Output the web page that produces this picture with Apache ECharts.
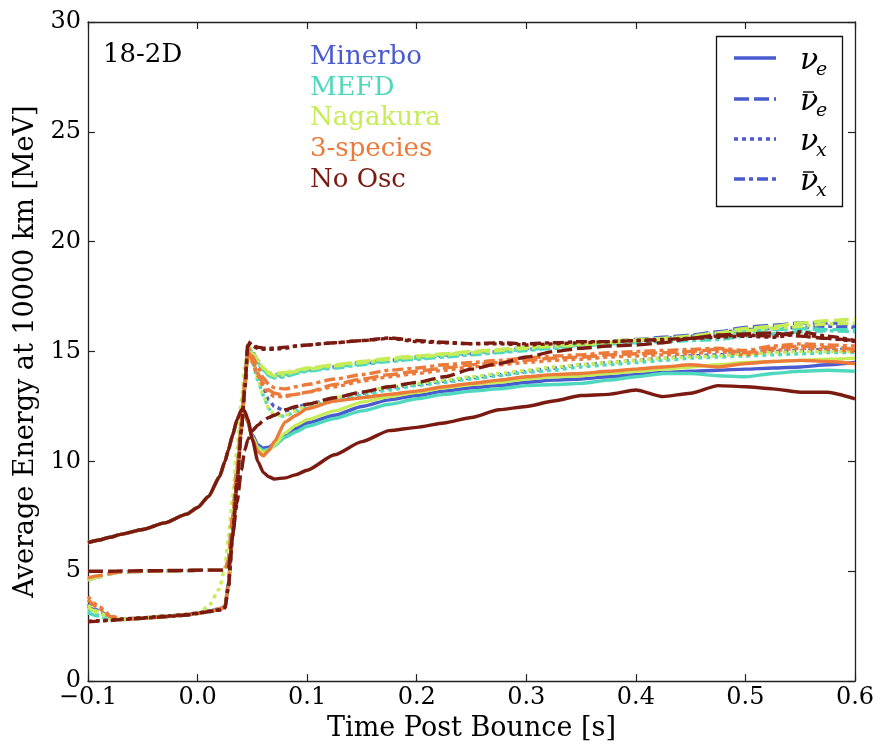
<!DOCTYPE html>
<html><head><meta charset="utf-8">
<script src="https://cdn.jsdelivr.net/npm/echarts@6/dist/echarts.min.js"></script>
<style>html,body{margin:0;padding:0;background:#fff}#c{width:881px;height:747px}</style>
</head><body><div id="c"></div>
<script>
// time grid [s]
const T = [-0.1,-0.09,-0.08,-0.07,-0.05,-0.03,-0.01,0.0,0.01,0.02,
 0.025,0.028,0.032,0.036,0.04,0.043,0.046,0.05,0.055,0.06,0.065,0.07,0.08,0.09,0.1,
 0.125,0.15,0.175,0.2,0.225,0.25,0.275,0.3,0.325,0.35,0.375,0.4,0.425,0.45,0.475,0.5,0.525,0.55,0.575,0.6];

// Minerbo
const mi_nue = [6.3,6.42,6.55,6.68,6.9,7.2,7.6,7.9,8.4,9.3,
 10.0,10.5,11.2,11.9,12.3,12.2,11.8,11.2,10.75,10.6,10.65,10.8,11.2,11.5,11.75,
 12.1,12.5,12.8,13.0,13.2,13.35,13.45,13.6,13.7,13.75,13.85,13.95,14.05,14.1,14.15,14.2,14.25,14.3,14.4,14.5];
const mi_nueb = [4.6,4.75,4.88,4.97,5.0,5.02,5.03,5.04,5.05,5.05,
 5.05,5.5,7.5,9.6,11.8,13.6,15.1,14.9,14.5,14.2,14.0,13.95,14.0,14.1,14.2,
 14.35,14.5,14.6,14.75,14.85,14.95,15.05,15.15,15.25,15.35,15.45,15.55,15.65,15.75,15.9,16.1,16.2,16.3,16.3,16.25];
const mi_nux = [3.5,3.2,2.9,2.82,2.88,2.95,3.03,3.1,3.18,3.3,
 3.4,4.4,6.8,9.2,11.6,13.4,15.2,14.6,13.9,13.3,12.8,12.5,12.3,12.45,12.6,
 12.85,13.1,13.35,13.5,13.65,13.8,13.95,14.1,14.25,14.4,14.5,14.6,14.7,14.8,14.85,14.95,15.0,15.05,15.1,15.1];
const mi_nuxb = [3.4,3.15,2.88,2.8,2.86,2.93,3.01,3.08,3.16,3.25,
 3.38,4.3,6.7,9.1,11.5,13.3,15.3,15.0,14.6,14.2,13.95,13.85,13.9,14.05,14.15,
 14.3,14.45,14.6,14.7,14.8,14.9,15.0,15.1,15.2,15.3,15.4,15.5,15.6,15.7,15.85,16.0,16.05,16.1,16.15,16.1];

// MEFD
const me_nue = [6.3,6.42,6.55,6.68,6.9,7.2,7.6,7.9,8.4,9.3,
 10.0,10.5,11.2,11.9,12.3,12.2,11.8,11.1,10.65,10.5,10.55,10.7,11.1,11.35,11.6,
 11.95,12.3,12.6,12.85,13.05,13.2,13.3,13.45,13.5,13.55,13.7,13.85,14.0,14.0,13.9,13.85,14.0,14.1,14.15,14.1];
const me_nueb = [4.65,4.78,4.9,4.97,5.0,5.02,5.03,5.04,5.05,5.05,
 5.05,5.5,7.5,9.6,11.8,13.6,15.1,14.85,14.45,14.15,13.95,13.9,13.95,14.05,14.15,
 14.3,14.45,14.6,14.7,14.85,14.95,15.0,15.1,15.2,15.3,15.4,15.5,15.6,15.65,15.75,15.9,16.0,16.05,16.0,16.0];
const me_nux = [3.2,3.0,2.85,2.82,2.88,2.95,3.03,3.1,3.18,3.3,
 3.4,4.4,6.8,9.2,11.6,13.4,15.2,14.5,13.7,13.0,12.4,12.1,12.05,12.3,12.5,
 12.75,13.0,13.25,13.45,13.6,13.75,13.9,14.05,14.15,14.3,14.4,14.5,14.6,14.7,14.75,14.8,14.85,14.9,14.95,14.95];
const me_nuxb = [3.1,2.95,2.83,2.8,2.86,2.93,3.01,3.08,3.16,3.25,
 3.38,4.3,6.7,9.1,11.5,13.3,15.3,14.95,14.5,14.15,13.9,13.8,13.85,14.0,14.1,
 14.25,14.4,14.55,14.65,14.75,14.85,14.95,15.05,15.15,15.25,15.35,15.4,15.45,15.5,15.55,15.7,15.8,15.9,15.95,15.9];

// Nagakura
const na_nue = [6.3,6.42,6.55,6.68,6.9,7.2,7.6,7.9,8.4,9.3,
 10.0,10.5,11.2,11.9,12.3,12.2,11.8,11.1,10.6,10.4,10.5,10.75,11.3,11.65,11.9,
 12.3,12.7,12.95,13.15,13.35,13.5,13.6,13.75,13.85,13.9,14.0,14.1,14.2,14.3,14.4,14.5,14.55,14.6,14.65,14.7];
const na_nueb = [4.6,4.75,4.88,4.97,5.0,5.02,5.03,5.04,5.05,5.05,
 5.05,5.5,7.5,9.6,11.8,13.6,15.1,14.9,14.55,14.25,14.05,14.0,14.05,14.15,14.25,
 14.4,14.55,14.7,14.8,14.9,15.0,15.1,15.2,15.3,15.35,15.45,15.55,15.6,15.7,15.85,16.05,16.15,16.3,16.4,16.5];
const na_nux = [3.45,3.15,2.88,2.82,2.88,2.95,3.03,3.1,3.4,4.2,
 5.2,6.5,8.4,10.6,12.8,14.3,15.1,14.5,13.8,13.0,12.4,12.1,12.1,12.3,12.55,
 12.9,13.15,13.4,13.55,13.7,13.85,14.0,14.15,14.3,14.4,14.5,14.6,14.7,14.75,14.8,14.9,14.95,15.0,15.0,15.0];
const na_nuxb = [3.35,3.1,2.86,2.8,2.86,2.93,3.01,3.08,3.16,3.25,
 3.38,4.3,6.7,9.1,11.5,13.3,15.3,15.0,14.6,14.25,14.0,13.9,13.95,14.1,14.2,
 14.35,14.5,14.65,14.75,14.85,14.95,15.05,15.15,15.25,15.3,15.4,15.5,15.55,15.65,15.8,15.95,16.05,16.15,16.25,16.3];

// 3-species
const ts_nue = [6.3,6.42,6.55,6.68,6.9,7.2,7.6,7.9,8.4,9.3,
 10.0,10.5,11.2,11.9,12.3,12.2,11.75,11.0,10.45,10.25,10.5,10.9,11.8,12.1,12.4,
 12.75,12.9,13.05,13.2,13.4,13.55,13.7,13.85,13.95,14.0,14.1,14.2,14.3,14.4,14.3,14.45,14.55,14.6,14.55,14.45];
const ts_nueb = [4.7,4.8,4.9,4.97,5.0,5.02,5.03,5.04,5.05,5.05,
 5.05,5.5,7.5,9.6,11.8,13.6,15.0,14.6,14.0,13.55,13.25,13.1,13.0,13.05,13.15,
 13.5,13.75,13.95,14.1,14.25,14.4,14.5,14.6,14.7,14.75,14.85,14.9,14.95,15.0,15.1,14.95,15.15,15.25,15.2,15.1];
const ts_nux = [3.85,3.4,3.0,2.82,2.88,2.95,3.03,3.1,3.18,3.3,
 3.4,4.4,6.8,9.2,11.6,13.4,15.1,14.5,13.9,13.4,13.1,12.95,12.95,13.05,13.15,
 13.4,13.65,13.85,14.0,14.15,14.3,14.4,14.5,14.6,14.65,14.75,14.8,14.85,14.9,15.0,14.85,15.05,15.15,15.1,15.0];
const ts_nuxb = [3.7,3.3,2.95,2.8,2.86,2.93,3.01,3.08,3.16,3.25,
 3.38,4.3,6.7,9.1,11.5,13.3,15.2,14.8,14.3,13.8,13.5,13.35,13.3,13.4,13.5,
 13.75,13.95,14.15,14.25,14.4,14.5,14.6,14.7,14.8,14.85,14.95,15.0,15.05,15.1,15.15,15.05,15.25,15.35,15.3,15.25];

// No Osc
const no_nue = [6.3,6.42,6.55,6.68,6.9,7.2,7.6,7.9,8.4,9.3,
 10.0,10.5,11.2,11.9,12.35,12.3,11.9,11.0,10.0,9.5,9.3,9.2,9.25,9.4,9.6,
 10.3,10.9,11.4,11.55,11.75,12.0,12.35,12.5,12.75,13.0,13.05,13.25,12.95,13.1,13.45,13.4,13.3,13.15,13.15,12.85];
const no_nueb = [5.0,5.0,5.0,5.01,5.02,5.03,5.04,5.05,5.05,5.05,
 5.05,5.1,6.6,8.1,9.6,10.5,11.0,11.4,11.65,11.85,12.0,12.1,12.35,12.5,12.6,
 12.9,13.15,13.4,13.6,13.85,14.2,14.45,14.75,15.0,15.15,15.25,15.3,15.4,15.6,15.75,15.8,15.85,15.7,15.6,15.5];
const no_nux = [2.72,2.75,2.78,2.82,2.88,2.95,3.03,3.1,3.18,3.25,
 3.35,4.3,6.7,9.1,11.5,13.3,15.3,15.25,15.15,15.1,15.1,15.1,15.15,15.25,15.3,
 15.4,15.5,15.6,15.45,15.4,15.35,15.35,15.3,15.35,15.4,15.45,15.5,15.5,15.6,15.65,15.7,15.65,15.8,15.6,15.45];
const no_nuxb = [2.7,2.73,2.76,2.8,2.86,2.93,3.01,3.08,3.16,3.23,
 3.33,4.2,6.6,9.0,11.4,13.2,15.45,15.3,15.2,15.15,15.15,15.15,15.2,15.25,15.3,
 15.4,15.5,15.62,15.5,15.42,15.36,15.4,15.35,15.4,15.45,15.45,15.5,15.55,15.6,15.7,15.75,15.7,15.9,15.7,15.5];

const modelNames = ['Minerbo','MEFD','Nagakura','3-species','No Osc'];
const modelColors = ['#4a5bcf','#4fd8bd','#c6ec58','#ec7a3a','#7a1a10'];
const modelData = [
  [mi_nue, mi_nueb, mi_nux, mi_nuxb],
  [me_nue, me_nueb, me_nux, me_nuxb],
  [na_nue, na_nueb, na_nux, na_nuxb],
  [ts_nue, ts_nueb, ts_nux, ts_nuxb],
  [no_nue, no_nueb, no_nux, no_nuxb]
];
const xTicks = {min:-0.1, max:0.6, interval:0.1};
const yTicks = {min:0, max:30, interval:5};

const FONT = 'DejaVu Serif';
const DASH = ['solid', [15,5], [4,4], [11,4,4,4]];
const LW = 3.4;

const series = [];
modelData.forEach((arrs, mi) => {
  arrs.forEach((arr, si) => {
    series.push({
      type:'line', name: modelNames[mi] + si,
      data: T.map((t,k) => [t, arr[k]]),
      symbol:'none', showSymbol:false, smooth:0.2, smoothMonotone:'x',
      lineStyle:{color:modelColors[mi], width:LW, type:DASH[si], cap:'butt', join:'round'},
      silent:true, animation:false, z:2
    });
  });
});

const fmtX = v => (Math.round(v*10)/10).toFixed(1).replace('-', '\u2212');
const axisLine = {show:true, onZero:false, lineStyle:{color:'#222', width:1.3}};
const tick = {show:true, inside:true, length:7, lineStyle:{color:'#222', width:1.2}};

// legend graphics
const lx0 = 734, lx1 = 776;
const rows = [58, 99, 139, 179];
const subs = ['e','e','x','x'];
const bars = [false,true,false,true];
const graphic = [
  {type:'rect', shape:{x:716.5, y:36.5, width:126, height:170}, style:{fill:'#fff', stroke:'#111', lineWidth:1.3}, z:10}
];
rows.forEach((ry, i) => {
  graphic.push({type:'line', shape:{x1:lx0, y1:ry, x2:lx1, y2:ry},
    style:{stroke:modelColors[0], lineWidth:LW, lineDash: DASH[i]==='solid'?null:DASH[i], lineCap:'butt'}, z:11});
  graphic.push({type:'text', x:800, y:ry+3, style:{text:'\u03bd', font:'italic 30px "DejaVu Serif"', fill:'#000', textAlign:'left', textVerticalAlign:'middle'}, z:11});
  graphic.push({type:'text', x:816, y:ry+12, style:{text:subs[i], font:'italic 19px "DejaVu Serif"', fill:'#000', textAlign:'left', textVerticalAlign:'middle'}, z:11});
  if (bars[i]) graphic.push({type:'line', shape:{x1:803, y1:ry-7, x2:814, y2:ry-7}, style:{stroke:'#000', lineWidth:1.4}, z:11});
});
const labelYs = [57, 88, 118.5, 149, 180];
modelNames.forEach((n, i) => {
  graphic.push({type:'text', x:310, y:labelYs[i], style:{text:n, font:'26px "DejaVu Serif"', fill:modelColors[i], textAlign:'left', textVerticalAlign:'middle'}, z:11});
});
graphic.push({type:'text', x:103, y:55, style:{text:'18-2D', font:'26px "DejaVu Serif"', fill:'#000', textAlign:'left', textVerticalAlign:'middle'}, z:11});

const chart = echarts.init(document.getElementById('c'), null, {renderer:'canvas'});
chart.setOption({
  animation:false,
  backgroundColor:'#fff',
  grid:{left:88, right:26, top:22, bottom:64, containLabel:false},
  xAxis:[
    {type:'value', min:xTicks.min, max:xTicks.max, interval:xTicks.interval, position:'bottom',
     name:'Time Post Bounce [s]', nameLocation:'middle', nameGap:28,
     nameTextStyle:{fontFamily:FONT, fontSize:27, color:'#000'},
     axisLine, axisTick:tick, splitLine:{show:false},
     axisLabel:{fontFamily:FONT, fontSize:24, color:'#000', margin:5, formatter:fmtX}},
    {type:'value', min:xTicks.min, max:xTicks.max, interval:xTicks.interval, position:'top',
     axisLine, axisTick:tick, splitLine:{show:false}, axisLabel:{show:false}}
  ],
  yAxis:[
    {type:'value', min:yTicks.min, max:yTicks.max, interval:yTicks.interval, position:'left',
     name:'Average Energy at 10000 km [MeV]', nameLocation:'middle', nameGap:39,
     nameTextStyle:{fontFamily:FONT, fontSize:27, color:'#000'},
     axisLine, axisTick:tick, splitLine:{show:false},
     axisLabel:{fontFamily:FONT, fontSize:24, color:'#000', margin:7}},
    {type:'value', min:yTicks.min, max:yTicks.max, interval:yTicks.interval, position:'right',
     axisLine, axisTick:tick, splitLine:{show:false}, axisLabel:{show:false}}
  ],
  series,
  graphic
});
</script></body></html>
